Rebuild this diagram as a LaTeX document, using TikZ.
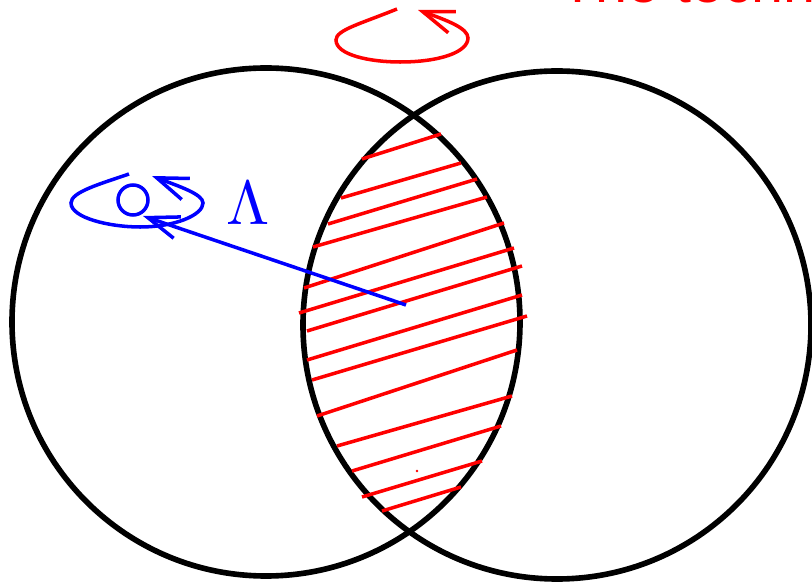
\documentclass[tikz,border=0pt]{standalone}
\usepackage{fontspec}
\usetikzlibrary{arrows.meta}
\newfontfamily\titlefont{Liberation Sans}

\begin{document}
\begin{tikzpicture}[
    x=0.02cm,
    y=-0.02cm,
    set/.style={
        draw=black,
        line width=3.2pt
    },
    hatch/.style={
        draw=red,
        line width=2pt
    },
    spin/.style={
        line width=2pt,
        -{Straight Barb[length=0.62cm, width=0.45cm]}
    },
    title/.style={
        text=red,
        font=\titlefont\fontsize{32.7}{38}\selectfont,
        anchor=base west,
        inner sep=0pt
    }
]
\useasboundingbox (0,0) rectangle (812,584);

% Sets
\draw[set] (266,322) circle[radius=254];
\draw[set] (557,325) circle[radius=254];

% Hatching of the intersection
\draw[hatch] (362,159) -- (441,134);
\draw[hatch] (341,198) -- (461,163);
\draw[hatch] (328,224) -- (477,179);
\draw[hatch] (313,247) -- (487,197);
\draw[hatch] (304,288) -- (504,223);
\draw[hatch] (299,313) -- (514,248);
\draw[hatch] (307,331) -- (522,266);
\draw[hatch] (307,360) -- (522,295);
\draw[hatch] (312,380) -- (527,316);
\draw[hatch] (317,416) -- (517,350);
\draw[hatch] (337,446) -- (512,396);
\draw[hatch] (352,471) -- (501,426);
\draw[hatch] (362,497) -- (482,461);
\draw[hatch] (382,511) -- (461,487);
\fill[red] (417,471) circle[radius=1.4];

% Rotation loops
\draw[spin, red] (397,9) .. controls (360,24) and (336,30) .. (336,40)
    .. controls (336,55) and (370,62) .. (400,62)
    .. controls (440,62) and (468,52) .. (468,38)
    .. controls (468,28) and (446,20) .. (418,10);
\draw[spin, blue] (129,174) .. controls (100,184) and (71,192) .. (71,203)
    .. controls (71,218) and (110,227) .. (140,227)
    .. controls (175,227) and (203,215) .. (203,203)
    .. controls (203,194) and (178,186) .. (152,176);
\draw[blue, line width=2pt] (133,200) circle[radius=15];

% Labels
\node[text=blue, scale=3.54, inner sep=0pt] (lambda) at (248,203) {$\Lambda$};
\node[title] (caption) at (560,3) {The technique};

% Connections
\coordinate (spot) at (406,305);
\coordinate (target) at (143,216);
\draw[spin, blue] (spot) -- (target);

\end{tikzpicture}
\end{document}
